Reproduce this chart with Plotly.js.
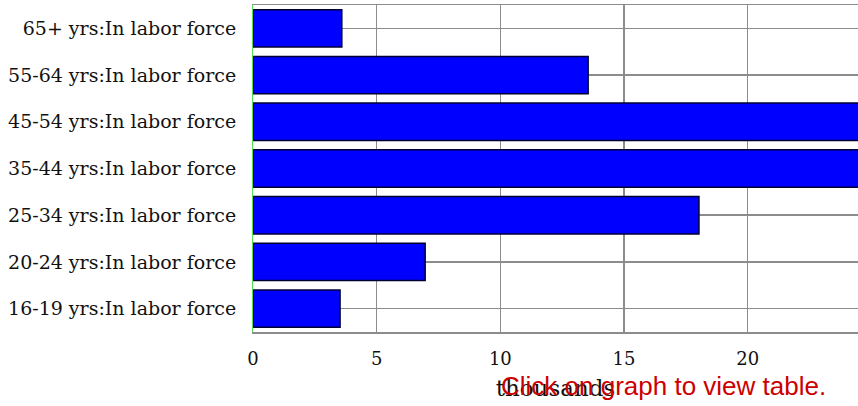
<!DOCTYPE html>
<html><head><meta charset="utf-8">
<script src="https://cdn.plot.ly/plotly-3.0.1.min.js"></script>
<style>body{margin:0;background:#fff}#c{width:858px;height:406px}</style>
</head><body><div id="c"></div>
<script>
const categories = ["16-19 yrs:In labor force","20-24 yrs:In labor force","25-34 yrs:In labor force","35-44 yrs:In labor force","45-54 yrs:In labor force","55-64 yrs:In labor force","65+ yrs:In labor force"];
const values = [3.52, 6.96, 18.03, 26.5, 25.8, 13.55, 3.59];
const xTicks = [0, 5, 10, 15, 20];
const xTitle = "thousands";
const note = "Click on graph to view table.";

Plotly.newPlot('c', [{
  type: 'bar', orientation: 'h', y: categories, x: values, width: 0.8,
  marker: {color: '#0000ff', line: {color: '#000033', width: 1.5}},
  hoverinfo: 'none'
}], {
  width: 858, height: 406,
  margin: {l: 253, r: 0, t: 5, b: 74, pad: 0},
  paper_bgcolor: '#fff', plot_bgcolor: '#fff',
  showlegend: false,
  xaxis: {range: [0, 24.46], tickvals: xTicks, ticktext: xTicks.map(String),
    showgrid: true, gridcolor: '#8c8c8c', gridwidth: 1.5, zeroline: false,
    showline: true, linecolor: '#8c8c8c', linewidth: 1.5, mirror: true, ticks: '',
    tickfont: {family: 'DejaVu Serif', size: 18, color: '#111'}, ticklabelstandoff: 10,
    title: {text: xTitle, font: {family: 'DejaVu Serif', size: 23, color: '#111'}, standoff: 12}},
  yaxis: {type: 'category', categoryorder: 'array', categoryarray: categories,
    showgrid: true, gridcolor: '#8c8c8c', gridwidth: 1.5, zeroline: false,
    showline: true, linecolor: '#55dd55', linewidth: 1, ticks: '',
    tickfont: {family: 'DejaVu Serif', size: 19, color: '#111'}, ticklabelstandoff: 12},
  bargap: 0.2,
  annotations: [{text: note, xref: 'paper', yref: 'paper', x: 0.678, y: -0.165,
    xanchor: 'center', yanchor: 'middle', showarrow: false,
    font: {family: 'Liberation Sans, Arial', size: 26, color: '#cc0000'}}]
}, {staticPlot: true});
</script></body></html>
